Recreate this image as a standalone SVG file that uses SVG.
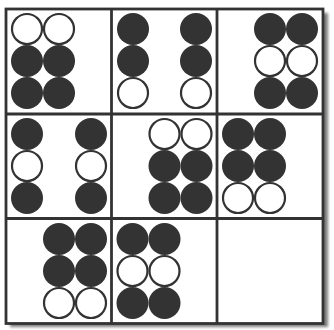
<svg xmlns="http://www.w3.org/2000/svg" width="334" height="330" viewBox="0 0 334 330">
  <defs>
    <filter id="shadow" x="-10%" y="-10%" width="130%" height="130%">
      <feGaussianBlur stdDeviation="1.6"/>
    </filter>
    <style>
      .f { fill: #333333; }
      .o { fill: #ffffff; stroke: #333333; stroke-width: 2.2; }
      .grid { fill: none; stroke: #333333; stroke-width: 2.8; }
    </style>
  </defs>
  <rect x="0" y="0" width="334" height="330" fill="#ffffff"/>
  <rect x="10" y="13" width="318" height="314" fill="#7a7a7a" filter="url(#shadow)"/>
  <rect x="6" y="9" width="317" height="314.5" fill="#ffffff"/>

  <g id="cell-1-1">
    <circle class="o" cx="27" cy="29" r="15"/>
    <circle class="o" cx="59" cy="29" r="15"/>
    <circle class="f" cx="27" cy="61" r="16"/>
    <circle class="f" cx="59" cy="61" r="16"/>
    <circle class="f" cx="27" cy="93" r="16"/>
    <circle class="f" cx="59" cy="93" r="16"/>
  </g>
  <g id="cell-1-2">
    <circle class="f" cx="133" cy="29" r="16"/>
    <circle class="f" cx="196" cy="29" r="16"/>
    <circle class="f" cx="133" cy="61" r="16"/>
    <circle class="f" cx="196" cy="61" r="16"/>
    <circle class="o" cx="133" cy="93" r="15"/>
    <circle class="o" cx="196" cy="93" r="15"/>
  </g>
  <g id="cell-1-3">
    <circle class="f" cx="270" cy="29" r="16"/>
    <circle class="f" cx="302" cy="29" r="16"/>
    <circle class="o" cx="270" cy="61" r="15"/>
    <circle class="o" cx="302" cy="61" r="15"/>
    <circle class="f" cx="270" cy="93" r="16"/>
    <circle class="f" cx="302" cy="93" r="16"/>
  </g>
  <g id="cell-2-1">
    <circle class="f" cx="27" cy="134" r="16"/>
    <circle class="f" cx="91" cy="134" r="16"/>
    <circle class="o" cx="27" cy="166" r="15"/>
    <circle class="o" cx="91" cy="166" r="15"/>
    <circle class="f" cx="27" cy="198" r="16"/>
    <circle class="f" cx="91" cy="198" r="16"/>
  </g>
  <g id="cell-2-2">
    <circle class="o" cx="164.5" cy="134" r="15"/>
    <circle class="o" cx="196.5" cy="134" r="15"/>
    <circle class="f" cx="164.5" cy="166" r="16"/>
    <circle class="f" cx="196.5" cy="166" r="16"/>
    <circle class="f" cx="164.5" cy="198" r="16"/>
    <circle class="f" cx="196.5" cy="198" r="16"/>
  </g>
  <g id="cell-2-3">
    <circle class="f" cx="238" cy="134" r="16"/>
    <circle class="f" cx="270" cy="134" r="16"/>
    <circle class="f" cx="238" cy="166" r="16"/>
    <circle class="f" cx="270" cy="166" r="16"/>
    <circle class="o" cx="238" cy="198" r="15"/>
    <circle class="o" cx="270" cy="198" r="15"/>
  </g>
  <g id="cell-3-1">
    <circle class="f" cx="59" cy="239" r="16"/>
    <circle class="f" cx="91" cy="239" r="16"/>
    <circle class="f" cx="59" cy="271" r="16"/>
    <circle class="f" cx="91" cy="271" r="16"/>
    <circle class="o" cx="59" cy="303" r="15"/>
    <circle class="o" cx="91" cy="303" r="15"/>
  </g>
  <g id="cell-3-2">
    <circle class="f" cx="132.5" cy="239" r="16"/>
    <circle class="f" cx="164.5" cy="239" r="16"/>
    <circle class="o" cx="132.5" cy="271" r="15"/>
    <circle class="o" cx="164.5" cy="271" r="15"/>
    <circle class="f" cx="132.5" cy="303" r="16"/>
    <circle class="f" cx="164.5" cy="303" r="16"/>
  </g>
  <g id="cell-3-3"></g>

  <g id="grid" class="grid">
    <rect x="6" y="9" width="317" height="314.5"/>
    <line x1="111.5" y1="9" x2="111.5" y2="323.5"/>
    <line x1="217" y1="9" x2="217" y2="323.5"/>
    <line x1="6" y1="114" x2="323" y2="114"/>
    <line x1="6" y1="218.5" x2="323" y2="218.5"/>
  </g>
</svg>
